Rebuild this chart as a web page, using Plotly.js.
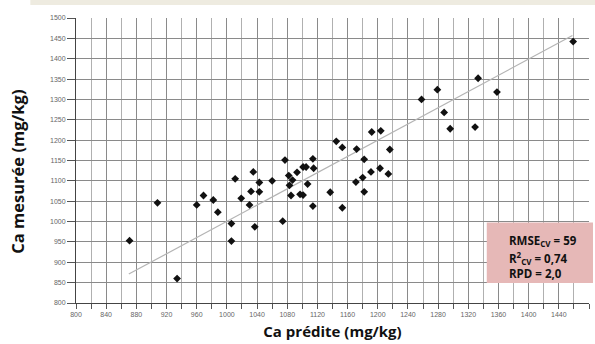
<!DOCTYPE html>
<html>
<head>
<meta charset="utf-8">
<script src="https://cdn.plot.ly/plotly-3.0.1.min.js"></script>
<style>html,body{margin:0;padding:0;background:#fff;}#chart{width:595px;height:344px;}</style>
</head>
<body>
<div id="chart"></div>
<script>
var predicted = [871,908,934,960,969,982,988,1006,1006,1011,1019,1030,1032,1035,1037,1043,1043,1060,1074,1077,1082,1083,1085,1087,1093,1097,1101,1105,1101,1107,1114,1115,1114,1137,1145,1153,1192,1204,1172,1216,1182,1191,1203,1214,1180,1171,1182,1153,1459,1333,1358,1288,1296,1329,1279,1258];
var measured = [953,1046,860,1041,1064,1053,1023,995,952,1105,1057,1041,1074,1122,987,1096,1073,1100,1001,1151,1113,1089,1064,1102,1121,1067,1134,1134,1065,1092,1154,1131,1038,1072,1197,1182,1220,1223,1178,1177,1153,1122,1131,1117,1108,1097,1073,1034,1442,1352,1318,1268,1228,1232,1324,1300];
var lineX = [870, 1458];
var lineY = [871, 1457];
var statsLines = ["RMSE<sub>CV</sub> = 59", "R<sup>2</sup><sub>CV</sub> = 0,74", "RPD = 2,0"];
var statsY = [0.216, 0.158, 0.102];

var traces = [
  {x: lineX, y: lineY, mode: 'lines', line: {color: '#b4b4b4', width: 1.2}, hoverinfo: 'skip', showlegend: false},
  {x: predicted, y: measured, mode: 'markers', marker: {symbol: 'diamond', size: 6, color: '#111'}, showlegend: false}
];

var annotations = statsLines.map(function (t, i) {
  return {xref: 'paper', yref: 'paper', x: 0.8403, y: statsY[i], xanchor: 'left', yanchor: 'middle', align: 'left', showarrow: false,
    text: '<b>' + t + '</b>', font: {family: 'Open Sans, sans-serif', size: 11.5, color: '#111'}};
});
annotations.push({xref: 'paper', yref: 'paper', x: -0.1144, y: 0.462, xanchor: 'center', yanchor: 'middle', textangle: -90, showarrow: false,
  text: '<b>Ca mesurée (mg/kg)</b>', font: {family: 'Open Sans, sans-serif', size: 16.5, color: '#111'}});

var layout = {
  width: 595, height: 344,
  margin: {l: 76, r: 6, t: 18, b: 41},
  paper_bgcolor: '#fff', plot_bgcolor: '#fff',
  font: {family: 'Liberation Sans, Arial, sans-serif'},
  xaxis: {
    range: [800, 1480], dtick: 40, tick0: 800,
    showgrid: true, gridcolor: '#8a8a8a', gridwidth: 1,
    minor: {dtick: 20, showgrid: true, gridcolor: '#b0b0b0', ticks: 'outside', ticklen: 5, tickcolor: '#555'},
    ticks: 'outside', ticklen: 5, tickcolor: '#555',
    showline: true, linecolor: '#444', linewidth: 1,
    zeroline: false,
    tickfont: {size: 7, color: '#666'},
    title: {text: '<b>Ca prédite (mg/kg)</b>', font: {family: 'Open Sans, sans-serif', size: 15, color: '#111'}, standoff: 9}
  },
  yaxis: {
    range: [800, 1500], dtick: 50, tick0: 800,
    showgrid: true, gridcolor: '#8a8a8a', gridwidth: 1,
    ticks: 'outside', ticklen: 8, tickcolor: '#555',
    showline: true, linecolor: '#444', linewidth: 1,
    zeroline: false,
    tickfont: {size: 7, color: '#666'}
  },
  shapes: [
    {type: 'rect', xref: 'paper', yref: 'paper', x0: -0.089, x1: 1.02, y0: 1.046, y1: 1.07, fillcolor: '#EEEBE0', line: {width: 0}, layer: 'above'},
    {type: 'rect', xref: 'paper', yref: 'paper', x0: 0.8007, x1: 1.0078, y0: 0.0702, y1: 0.2828, fillcolor: '#E6B8B7', line: {width: 0}, layer: 'above'}
  ],
  annotations: annotations
};

Plotly.newPlot('chart', traces, layout, {displayModeBar: false, staticPlot: true});
</script>
</body>
</html>
